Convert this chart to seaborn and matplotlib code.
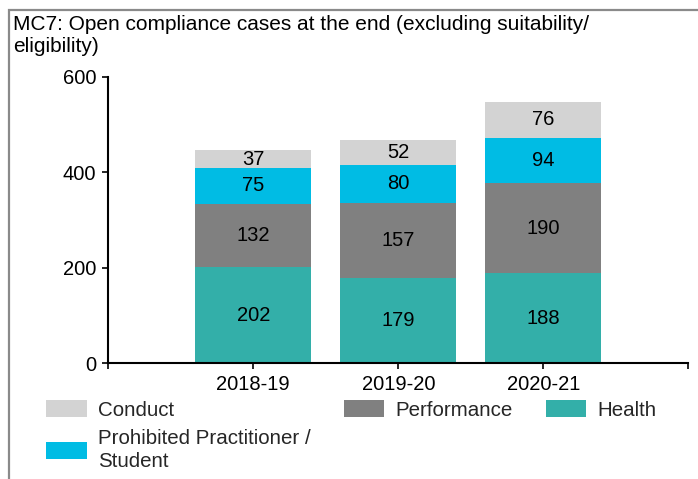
import numpy as np
import pandas as pd
import matplotlib
matplotlib.use("Agg")
import matplotlib.pyplot as plt
from matplotlib.patches import Patch, Rectangle
import seaborn as sns

years = ["2018-19", "2019-20", "2020-21"]
health = [202, 179, 188]
performance = [132, 157, 190]
prohibited = [75, 80, 94]
conduct = [37, 52, 76]

series_names = ["Health", "Performance", "Prohibited Practitioner /\nStudent", "Conduct"]
series_values = [health, performance, prohibited, conduct]
series_colors = ["#33afa9", "#808080", "#00bce4", "#d3d3d3"]

sns.set_theme(style="white")
plt.rcParams["font.family"] = ["Liberation Sans", "DejaVu Sans"]

fig = plt.figure(figsize=(6.98, 4.79), dpi=100)
ax = fig.add_axes([108.3 / 698, 1 - 363.3 / 479, 580 / 698, 286.6 / 479])

# cumulative tops for each layer, drawn tallest first so lower layers sit on top
tops = np.cumsum(np.array(series_values), axis=0)
for name, top, color in reversed(list(zip(series_names, tops, series_colors))):
    df = pd.DataFrame({"year": years, "value": top})
    sns.barplot(data=df, x="year", y="value", color=color, width=0.8,
                linewidth=0, saturation=1, ax=ax)

bottoms = tops - np.array(series_values)
for vals, bots in zip(series_values, bottoms):
    for i, (v, b) in enumerate(zip(vals, bots)):
        ax.text(i, b + v / 2, f"{v}", ha="center", va="center", fontsize=14.5, color="black")

ax.set_xlim(-1, 3)
ax.set_ylim(0, 600)
ax.set_yticks([0, 200, 400, 600])
ax.set_xticks([-1, 0, 1, 2, 3])
ax.set_xticklabels([""] + years + [""])
ax.set_xlabel("")
ax.set_ylabel("")
for s in ["top", "right"]:
    ax.spines[s].set_visible(False)
for s in ["left", "bottom"]:
    ax.spines[s].set_color("black")
    ax.spines[s].set_linewidth(1.5)
ax.tick_params(axis="both", which="major", direction="out", length=4.5, width=1.2,
               color="black", labelsize=14.5, labelcolor="black", pad=4,
               left=True, bottom=True)

# outer frame of the panel
fig.patches.append(Rectangle((9 / 698, -0.05), 1.0, 1 - 10 / 479 + 0.05,
                             transform=fig.transFigure, fill=False,
                             edgecolor="#8a8a8a", linewidth=1.6, zorder=0))

# title: two lines, anchored at the baseline of the last line
fig.text(13 / 698, 1 - 52.5 / 479,
         "MC7: Open compliance cases at the end (excluding suitability/\neligibility)",
         ha="left", va="baseline", fontsize=15, color="black", linespacing=1.22)

handles = [Patch(facecolor=c, edgecolor="none") for c in series_colors]
order = [3, 2, 1, 0]
leg = fig.legend([handles[i] for i in order], [series_names[i] for i in order],
                 ncol=3, loc="upper left", bbox_to_anchor=(46 / 698, 1 - 400 / 479),
                 frameon=False, fontsize=14.75, borderpad=0, borderaxespad=0,
                 handlelength=1.99, handleheight=0.93, handletextpad=0.54,
                 columnspacing=1.61, labelspacing=0.45)
for t in leg.get_texts():
    t.set_linespacing(1.29)

fig.savefig("out.png", dpi=100)
